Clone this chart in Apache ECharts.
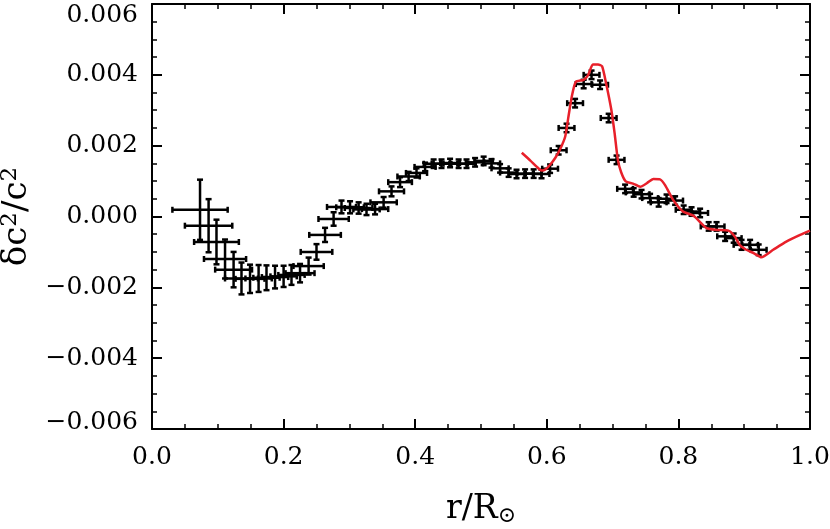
<!DOCTYPE html>
<html>
<head>
<meta charset="utf-8">
<script src="https://cdn.jsdelivr.net/npm/echarts@6/dist/echarts.min.js"></script>
<style>
  html, body { margin: 0; padding: 0; background: #fff; }
  #main { width: 830px; height: 529px; }
</style>
</head>
<body>
<div id="main"></div>
<script>
// observed points: radius, delta c^2/c^2, and their error half-widths
const obsR = [
  0.073, 0.086, 0.098, 0.111, 0.124, 0.136, 0.149, 0.162, 0.174, 0.187,
  0.200, 0.212, 0.225, 0.238, 0.250, 0.263, 0.276, 0.288, 0.301, 0.314,
  0.326, 0.339, 0.352, 0.364, 0.377, 0.390, 0.402, 0.415, 0.428, 0.440,
  0.453, 0.466, 0.478, 0.491, 0.504, 0.516, 0.529, 0.542, 0.554, 0.567,
  0.580, 0.592, 0.605, 0.618, 0.630, 0.643, 0.656, 0.668, 0.681, 0.694,
  0.706, 0.719, 0.732, 0.744, 0.757, 0.770, 0.782, 0.795, 0.808, 0.820,
  0.833, 0.846, 0.858, 0.871, 0.884, 0.896, 0.909, 0.922
];
const obsDc2 = [
  0.00019, -0.00026, -0.00072, -0.0012, -0.0015, -0.00175, -0.00176, -0.00175, -0.00173, -0.00171,
  -0.00169, -0.00165, -0.0016, -0.0014, -0.001, -0.00052, -0.00007, 0.00027, 0.00026, 0.00024,
  0.0002, 0.00021, 0.0004, 0.00071, 0.00097, 0.00113, 0.00123, 0.0014, 0.00149, 0.00149,
  0.00151, 0.00149, 0.00149, 0.00153, 0.00157, 0.0015, 0.00136, 0.00124, 0.0012, 0.00121,
  0.00121, 0.0012, 0.00135, 0.00187, 0.0025, 0.0032, 0.00374, 0.004, 0.00372, 0.00278,
  0.0016, 0.00078, 0.00068, 0.00063, 0.00052, 0.0004, 0.0005, 0.00045, 0.00019, 0.00014,
  0.0001, -0.00028, -0.00028, -0.00056, -0.00061, -0.0008, -0.0008, -0.00094
];
const obsRErr = [
  0.042, 0.036, 0.034, 0.032, 0.028, 0.025, 0.022, 0.02, 0.02, 0.02,
  0.02, 0.02, 0.022, 0.023, 0.024, 0.024, 0.023, 0.022, 0.021, 0.021,
  0.02, 0.02, 0.02, 0.019, 0.018, 0.017, 0.016, 0.016, 0.015, 0.015,
  0.015, 0.014, 0.014, 0.014, 0.014, 0.013, 0.013, 0.013, 0.012, 0.012,
  0.012, 0.012, 0.012, 0.012, 0.012, 0.012, 0.012, 0.012, 0.012, 0.012,
  0.012, 0.012, 0.012, 0.012, 0.012, 0.012, 0.012, 0.012, 0.012, 0.012,
  0.012, 0.012, 0.012, 0.012, 0.012, 0.012, 0.012, 0.012
];
const obsDc2Err = [
  0.00085, 0.00075, 0.00063, 0.00055, 0.0005, 0.00045, 0.0004, 0.00038, 0.00035, 0.00032,
  0.0003, 0.00028, 0.00026, 0.00024, 0.00022, 0.0002, 0.00019, 0.00018, 0.00017, 0.00016,
  0.00016, 0.00015, 0.00015, 0.00014, 0.00014, 0.00013, 0.00013, 0.00012, 0.00012, 0.00012,
  0.00012, 0.00012, 0.00012, 0.00012, 0.00012, 0.00012, 0.00012, 0.00012, 0.00012, 0.00012,
  0.00012, 0.00012, 0.00012, 0.00012, 0.00012, 0.00012, 0.00012, 0.00012, 0.00012, 0.00012,
  0.00012, 0.00012, 0.00012, 0.00012, 0.00012, 0.00012, 0.00012, 0.00012, 0.00012, 0.00012,
  0.00012, 0.00012, 0.00012, 0.00013, 0.00013, 0.00014, 0.00014, 0.00015
];

// model curve (red)
const modelR = [
  0.562, 0.575, 0.585, 0.592, 0.598, 0.605, 0.613, 0.620, 0.628, 0.633,
  0.638, 0.644, 0.656, 0.663, 0.670, 0.678, 0.684, 0.690, 0.698, 0.703,
  0.708, 0.713, 0.720, 0.731, 0.742, 0.752, 0.762, 0.772, 0.780, 0.792,
  0.807, 0.823, 0.843, 0.858, 0.876, 0.886, 0.893, 0.903, 0.915, 0.926,
  0.944, 0.964, 0.985, 1.000
];
const modelDc2 = [
  0.0018, 0.00158, 0.0014, 0.0013, 0.00133, 0.00146, 0.00166, 0.00189, 0.00226, 0.00283,
  0.00339, 0.0038, 0.00386, 0.004, 0.00429, 0.00429, 0.00424, 0.00377, 0.00302, 0.00236,
  0.0016, 0.00125, 0.00099, 0.00093, 0.00084, 0.00094, 0.00106, 0.00105, 0.00088, 0.00047,
  0.00014, 0.00002, -0.00033, -0.00038, -0.0004, -0.00057, -0.0008, -0.00094, -0.00104, -0.00115,
  -0.00094, -0.00071, -0.00052, -0.0004
];

const xTicks = [0, 0.2, 0.4, 0.6, 0.8, 1.0];
const yTicks = [-0.006, -0.004, -0.002, 0, 0.002, 0.004, 0.006];

const errData = obsR.map((r, i) => [r, obsDc2[i], obsRErr[i], obsDc2Err[i]]);
const modelData = modelR.map((r, i) => [r, modelDc2[i]]);

const labelFont = 'DejaVu Serif';

function errorBar(params, api) {
  const x = api.value(0), y = api.value(1);
  const ex = api.value(2), ey = api.value(3);
  const left = api.coord([x - ex, y]);
  const right = api.coord([x + ex, y]);
  const top = api.coord([x, y + ey]);
  const bottom = api.coord([x, y - ey]);
  const cap = 3;
  const style = { stroke: '#000', lineWidth: 2.5 };
  const line = (x1, y1, x2, y2) => ({
    type: 'line', shape: { x1, y1, x2, y2 }, style
  });
  return {
    type: 'group',
    children: [
      line(left[0], left[1], right[0], right[1]),
      line(left[0], left[1] - cap, left[0], left[1] + cap),
      line(right[0], right[1] - cap, right[0], right[1] + cap),
      line(top[0], top[1], bottom[0], bottom[1]),
      line(top[0] - cap, top[1], top[0] + cap, top[1]),
      line(bottom[0] - cap, bottom[1], bottom[0] + cap, bottom[1])
    ]
  };
}

const axisLine = { show: true, onZero: false, lineStyle: { color: '#000', width: 2 } };
const tick = { inside: true, length: 10, lineStyle: { color: '#000', width: 2 } };
const minor = { show: true, splitNumber: 4, length: 5, lineStyle: { color: '#000', width: 1.5 } };

function yLabel(v) {
  const r = Math.round(v * 1000) / 1000;
  if (!yTicks.some(t => Math.abs(t - r) < 1e-9)) return '';
  const txt = (r < 0 ? '\u2212' : '') + Math.abs(r).toFixed(3);
  // the end labels sit inside the frame, as in the original
  if (r === yTicks[yTicks.length - 1]) return '{hi|' + txt + '}';
  if (r === yTicks[0]) return '{lo|' + txt + '}';
  return txt;
}

const chart = echarts.init(document.getElementById('main'));

const option = {
  animation: false,
  grid: { left: 152, right: 20, top: 4, bottom: 100, outerBoundsMode: 'none', containLabel: false },
  xAxis: [
    {
      type: 'value', min: 0, max: 1, interval: 0.2, position: 'bottom',
      axisLine, axisTick: tick, minorTick: minor,
      splitLine: { show: false },
      axisLabel: {
        margin: 16, color: '#000', fontFamily: labelFont, fontSize: 25,
        formatter: v => v.toFixed(1)
      },
      name: 'r/R{sub|\u2299}',
      nameLocation: 'middle',
      nameGap: 62,
      nameTextStyle: {
        color: '#000', fontFamily: labelFont, fontSize: 33,
        rich: { sub: { fontFamily: labelFont, fontSize: 22, color: '#000', padding: [14, 0, 0, 0] } }
      }
    },
    {
      type: 'value', min: 0, max: 1, interval: 0.2, position: 'top',
      axisLine, axisTick: tick, minorTick: minor,
      splitLine: { show: false },
      axisLabel: { show: false }
    }
  ],
  yAxis: [
    {
      type: 'value', min: -0.006, max: 0.006, interval: 0.002, position: 'left',
      axisLine, axisTick: tick, minorTick: minor,
      splitLine: { show: false },
      axisLabel: {
        margin: 14, color: '#000', fontFamily: labelFont, fontSize: 25,
        formatter: yLabel,
        rich: {
          hi: { fontFamily: labelFont, fontSize: 25, color: '#000', padding: [22, 0, 0, 0] },
          lo: { fontFamily: labelFont, fontSize: 25, color: '#000', padding: [0, 0, 14, 0] }
        }
      },
      name: '\u03b4c{sup|2}/c{sup|2}',
      nameLocation: 'middle',
      nameRotate: 90,
      nameGap: 112,
      nameTextStyle: {
        color: '#000', fontFamily: labelFont, fontSize: 34,
        rich: { sup: { fontFamily: labelFont, fontSize: 23, color: '#000', padding: [0, 0, 16, 0] } }
      }
    },
    {
      type: 'value', min: -0.006, max: 0.006, interval: 0.002, position: 'right',
      axisLine, axisTick: tick, minorTick: minor,
      splitLine: { show: false },
      axisLabel: { show: false }
    }
  ],
  series: [
    {
      name: 'observed',
      type: 'custom',
      renderItem: errorBar,
      data: errData,
      encode: { x: 0, y: 1 },
      z: 3
    },
    {
      name: 'model',
      type: 'line',
      data: modelData,
      showSymbol: false,
      smooth: 0.2,
      lineStyle: { color: '#e8202a', width: 2.5 },
      z: 4
    }
  ]
};

chart.setOption(option);
window.addEventListener('resize', () => chart.resize());
</script>
</body>
</html>
